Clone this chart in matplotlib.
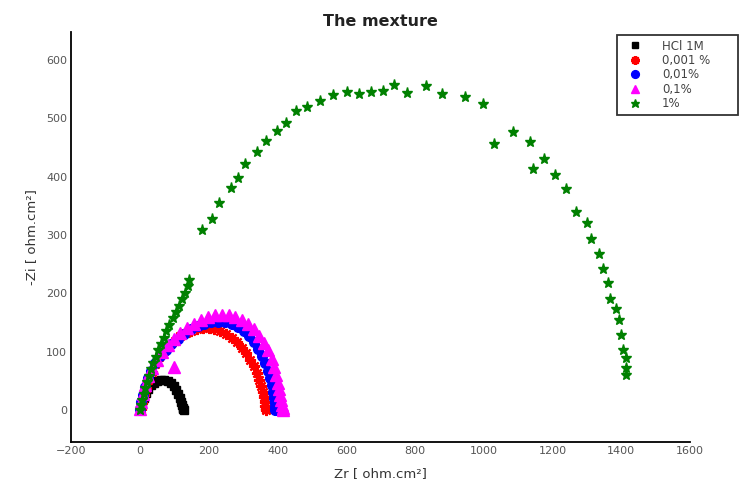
import matplotlib.pyplot as plt
import numpy as np

# HCl 1M blank
black_x = [0, 2, 5, 10, 16, 23, 31, 40, 50, 60, 70, 80, 89, 97, 104, 110, 115, 119, 122, 124, 125, 126]
black_y = [0, 6, 13, 21, 29, 36, 42, 47, 50, 52, 52, 50, 46, 41, 35, 28, 21, 14, 8, 4, 1, 0]

# 0,001 %
red_x = [2, 5, 10, 16, 24, 33, 44, 56, 70, 85, 100, 116, 132, 148, 165, 182, 199, 216, 233, 250,
         266, 281, 295, 308, 320, 330, 339, 346, 352, 357, 360, 362, 364, 365, 366]
red_y = [2, 12, 25, 38, 52, 65, 78, 90, 101, 111, 119, 126, 132, 136, 139, 140, 140, 139, 136, 131,
         124, 116, 107, 97, 86, 75, 63, 52, 41, 31, 22, 14, 7, 2, 0]

# 0,01 %
blue_x = [0, 3, 8, 14, 22, 32, 44, 58, 74, 91, 109, 128, 147, 167, 187, 207, 227, 247, 266, 284,
          301, 317, 331, 344, 355, 364, 371, 377, 382, 386, 389, 391, 392, 393]
blue_y = [2, 13, 26, 40, 54, 67, 80, 92, 103, 113, 122, 131, 138, 144, 148, 151, 151, 150, 147, 142,
          135, 126, 116, 105, 93, 80, 67, 54, 42, 31, 21, 12, 5, 0]

# 0,1 %
mag_x = [0, 3, 8, 15, 24, 35, 48, 63, 80, 98, 117, 137, 157, 177, 197, 217, 237, 257, 277, 296,
         314, 331, 346, 360, 372, 382, 390, 396, 401, 405, 408, 411, 413, 415, 416, 97]
mag_y = [2, 14, 28, 43, 58, 72, 86, 99, 111, 122, 132, 141, 148, 154, 159, 162, 163, 162, 159, 154,
         147, 138, 127, 115, 102, 88, 74, 60, 47, 36, 26, 17, 9, 3, 0, 74]

# 1 %
green_x = [0, 3, 6, 10, 15, 20, 26, 32, 38, 45, 52, 60, 68, 76, 85, 94, 103, 112, 121, 130, 138, 143,
           181, 210, 230, 263, 285, 306, 341, 365, 398, 425, 454, 486, 522, 561, 602, 638, 672, 706,
           738, 775, 831, 877, 944, 996, 1030, 1085, 1134, 1175, 1143, 1208, 1239, 1269, 1300, 1312,
           1334, 1347, 1360, 1368, 1385, 1392, 1398, 1406, 1412, 1414, 1412]
green_y = [0, 8, 17, 27, 37, 48, 59, 70, 80, 91, 102, 113, 124, 135, 146, 157, 168, 179, 190, 201, 212, 222,
           309, 327, 355, 380, 397, 422, 443, 462, 479, 492, 512, 519, 529, 540, 545, 542, 545, 547,
           557, 543, 556, 542, 536, 524, 456, 477, 459, 431, 413, 403, 379, 339, 320, 293,
           268, 242, 217, 190, 173, 154, 129, 103, 89, 72, 60]

fig = plt.figure(figsize=(7.4, 4.84), dpi=100)
ax = fig.add_axes([0.0966, 0.0868, 0.836, 0.847])

ax.plot(black_x, black_y, 's', color='black', ms=6, ls='none', label='HCl 1M')
ax.plot(red_x, red_y, ls='none', marker=(8, 2, 0), color='red', ms=8, mew=1.6, label='0,001 %')
ax.plot(blue_x, blue_y, 'o', color='blue', ms=7, ls='none', label='0,01%')
ax.plot(mag_x, mag_y, '^', color='magenta', ms=8, ls='none', label='0,1%')
ax.plot(green_x, green_y, '*', color='green', ms=8, ls='none', label='1%')

ax.set_xlim(-200, 1600)
ax.set_ylim(-55, 648)
ax.set_xticks(np.arange(-200, 1601, 200))
ax.set_yticks(np.arange(0, 601, 100))
ax.tick_params(length=0, labelsize=8, labelcolor='#555555', pad=3)
for s in ['top', 'right']:
    ax.spines[s].set_visible(False)
for s in ['left', 'bottom']:
    ax.spines[s].set_linewidth(1.3)

ax.set_xlabel('Zr [ ohm.cm²]', fontsize=9.5, color='#333333', labelpad=8)
ax.set_ylabel('-Zi [ ohm.cm²]', fontsize=9.5, color='#333333', labelpad=6)
ax.set_title('The mexture', fontsize=11.5, fontweight='bold', color='#222222', pad=4)

leg = fig.legend(loc='upper left', bbox_to_anchor=(0.834, 0.928, 0.1635, 0.0), mode='expand',
                 borderaxespad=0, fontsize=8.5, frameon=True, fancybox=False, edgecolor='black',
                 labelcolor='#444444', handletextpad=1.2, borderpad=0.4, labelspacing=0.12,
                 markerscale=0.8, handlelength=2.2)
leg.get_frame().set_linewidth(1.3)

fig.savefig('out.png', dpi=100)
